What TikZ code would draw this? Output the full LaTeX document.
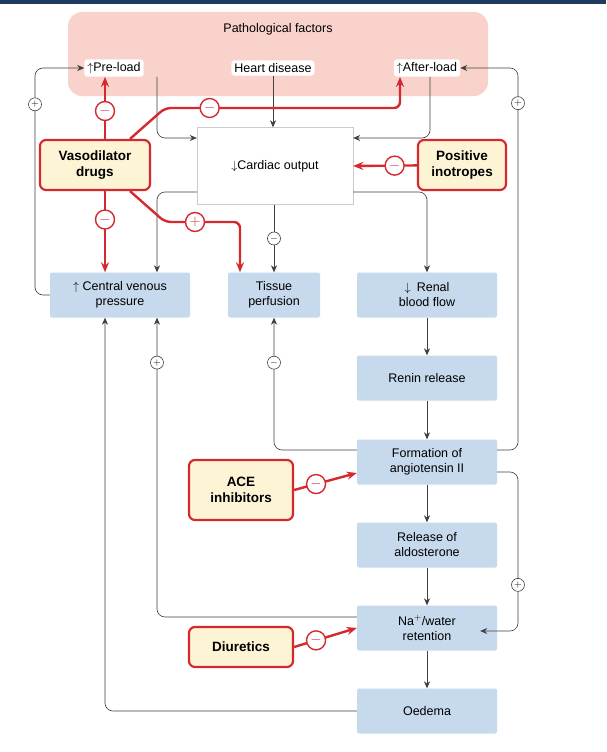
\documentclass[tikz,border=0pt]{standalone}
\usepackage{fontspec}
\setmainfont{Liberation Sans}
\usepackage{tikz}
\usetikzlibrary{arrows.meta, positioning, calc, backgrounds}
\definecolor{navy}{HTML}{1F3A5F}
\definecolor{pinkbg}{HTML}{F9D3CB}
\definecolor{bluebox}{HTML}{C7D9EC}
\definecolor{cream}{HTML}{FDF4D6}
\definecolor{drugred}{HTML}{D42A2F}
\tikzset{
  step_box/.style = {fill=bluebox, rounded corners=2, minimum width=140, minimum height=45, align=center, inner sep=1, font=\fontsize{12.5}{15}\selectfont},
  factor_box/.style = {fill=white, rounded corners=3, inner sep=3, font=\fontsize{12.5}{14}\selectfont},
  drug_box/.style = {draw=drugred, line width=2.2, fill=cream, rounded corners=6, align=center, inner sep=1, font=\bfseries\fontsize{13.5}{16}\selectfont},
  link/.style = {draw=black!75, line width=0.6, rounded corners=8},
  link_arrow/.style = {link, -{Stealth[length=7, width=6]}},
  drug_arrow/.style = {draw=drugred, line width=2.4, rounded corners=6, -{Stealth[length=10, width=8]}},
  sign/.style = {circle, draw=black!75, fill=white, inner sep=0, minimum size=13, font=\fontsize{10}{10}\selectfont},
  drug_sign/.style = {circle, draw=drugred, line width=1.4, fill=white, inner sep=0, minimum size=19, font=\bfseries\fontsize{14}{14}\selectfont, text=drugred}
}
\begin{document}
\begin{tikzpicture}[x=1pt, y=-1pt]
        \useasboundingbox (0,0) rectangle (606,752);
        \fill[white] (0,0) rectangle (606,752);
        \fill[navy] (0,0) rectangle (606,4);

        % Pathological factors
        \node[fill=pinkbg, rounded corners=14, minimum width=420, minimum height=84] (path) at (278,54) {};
        \node[font=\fontsize{12.5}{14}\selectfont] (path_t) at (278,29) {Pathological factors};
        \node[factor_box] (pre) at (114,68) {$\uparrow$Pre-load};
        \node[factor_box] (hd) at (273,68) {Heart disease};
        \node[factor_box] (after) at (427,68) {$\uparrow$After-load};

        \node[draw=black!20, fill=white, minimum width=156, minimum height=77] (co) at (275,166) {};
        \node[font=\fontsize{12.5}{14}\selectfont] (co_t) at (co.center) {$\downarrow$Cardiac output};

        % Drugs
        \node[drug_box, minimum width=110, minimum height=50] (vaso) at (95,165) {Vasodilator\\drugs};
        \node[drug_box, minimum width=88, minimum height=50] (ino) at (462,165) {Positive\\inotropes};
        \node[drug_box, minimum width=104, minimum height=60] (ace) at (241,490) {ACE\\inhibitors};
        \node[drug_box, minimum width=104, minimum height=40] (diur) at (241,647) {Diuretics};

        % Steps
        \node[step_box] (cvp) at (120,295) {$\uparrow$ Central venous\\pressure};
        \node[step_box, minimum width=92] (tissue) at (274,295) {Tissue\\perfusion};
        \node[step_box] (renal) at (427,295) {$\downarrow$\enspace Renal\\blood flow};
        \node[step_box] (renin) at (427,378) {Renin release};
        \node[step_box] (ang) at (427,462) {Formation of\\angiotensin II};
        \node[step_box] (ald) at (427,545) {Release of\\aldosterone};
        \node[step_box] (na) at (427,628) {Na$^{+}$/water\\retention};
        \node[step_box] (oed) at (427,711) {Oedema};

        % Arrows and lines
        \draw[link_arrow] (pre.south -| 157,0) |- (co.north west |- 0,138);
        \draw[link_arrow] (hd) -- (co.north -| hd);
        \draw[link_arrow] (after.south -| 430,0) |- (co.north east |- 0,138);
        \draw[link_arrow] (co.south west |- 0,192) -| (cvp.north -| 157,0);
        \draw[link_arrow] (co.south east |- 0,192) -| (renal.north);
        \draw[link_arrow] (co.south -| tissue) -- node[sign] (s_tis) {$-$} (tissue.north);
        \draw[link_arrow] (cvp.west) -| node[sign, pos=0.92] (s_pre) {$+$} (35,68) -- (pre.west);
        \draw[link_arrow] (ang.east |- 0,450) -| node[sign, pos=0.954] (s_after) {$+$} (518,68) -- (after.east);
        \draw[link_arrow] (ang.west |- 0,450) -| node[sign, pos=0.83] (s_tis2) {$-$} (tissue.south);
        \draw[link_arrow] (na.west |- 0,617) -| node[sign, pos=0.925] (s_cvp) {$+$} (cvp.south -| 157,0);
        \draw[link_arrow] (oed.west) -| (cvp.south -| 105,0);
        \draw[link_arrow] (ang.east |- 0,472) -| node[sign, pos=0.855] (s_na) {$+$} (518,631) -- (na.east |- 0,631) -- ++(-17,0);
        \foreach \a/\b in {renal/renin, renin/ang, ang/ald, ald/na, na/oed}
            \draw[link_arrow] (\a) -- (\b);

        % Drug effects
        \draw[drug_arrow] (vaso.north -| 105,0) -- node[drug_sign, pos=0.45] (d_pre) {$-$} (pre.south -| 105,0);
        \draw[drug_arrow] (vaso.south -| 105,0) -- node[drug_sign, pos=0.35] (d_cvp) {$-$} (cvp.north -| 105,0);
        \draw[drug_arrow] (vaso.north -| 130,0) -- (165,108) -- node[drug_sign, pos=0.19] (d_after) {$-$} (400,108) -- (after.south -| 400,0);
        \draw[drug_arrow] (vaso.south -| 130,0) -- (165,222) -- node[drug_sign, pos=0.4] (d_tis) {$+$} (240,222) -- (tissue.north -| 240,0);
        \draw[drug_arrow] (ino) -- node[drug_sign, pos=0.35] (d_co) {$-$} (co.east);
        \draw[drug_arrow] (ace.east) -- node[drug_sign, pos=0.35] (d_ang) {$-$} (ang.west |- 0,473);
        \draw[drug_arrow] (diur.east) -- node[drug_sign, pos=0.35] (d_na) {$-$} (na.west);
\end{tikzpicture}
\end{document}
